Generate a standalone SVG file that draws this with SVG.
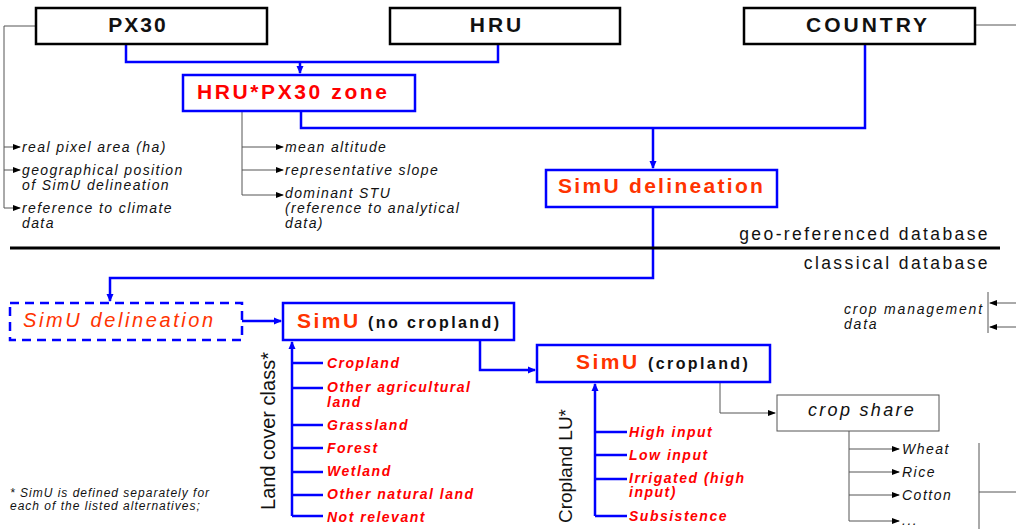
<svg xmlns="http://www.w3.org/2000/svg" width="1016" height="529" viewBox="0 0 1016 529">
<style>
text{font-family:"Liberation Sans",Arial,sans-serif}
.top{fill:#fff;stroke:#000;stroke-width:2.5}
.bbox{fill:#fff;stroke:#0000ff;stroke-width:2.5}
.blue{fill:none;stroke:#0000ff;stroke-width:2.5}
.gray{fill:none;stroke:#555;stroke-width:1}
.tt{font-size:21px;font-weight:bold;text-anchor:middle;fill:#111;letter-spacing:3px}
.ann{font-size:14px;font-style:italic;fill:#111;letter-spacing:1.4px}
.lc{font-size:14px;font-style:italic;font-weight:bold;fill:#ff0000;letter-spacing:1.5px}
.crop{font-size:14px;font-style:italic;fill:#111;letter-spacing:1.5px}
.db{font-size:17.5px;fill:#111;letter-spacing:2.4px;text-anchor:end}
.simu{font-size:21px;font-weight:bold;fill:#ff3300;letter-spacing:2.5px}
.sub{font-size:16px;fill:#111;letter-spacing:2.4px}
</style>
<defs>
<marker id="ab" markerWidth="8" markerHeight="8" refX="7" refY="4" orient="auto" markerUnits="userSpaceOnUse"><path d="M0,0.5 L8,4 L0,7.5 z" fill="#0000ff"/></marker>
<marker id="ak" markerWidth="8" markerHeight="7" refX="7" refY="3.5" orient="auto" markerUnits="userSpaceOnUse"><path d="M0,0.5 L8,3.5 L0,6.5 z" fill="#000"/></marker>
</defs>

<g id="connectors">
  <path class="blue" d="M126,44 V62 H498 V44"/>
  <path class="blue" d="M300,62 V73" marker-end="url(#ab)"/>
  <path class="blue" d="M301,111 V128 H865 V44"/>
  <path class="blue" d="M653,128 V168" marker-end="url(#ab)"/>
  <path class="blue" d="M653,207 V278 H110 V301" marker-end="url(#ab)"/>
  <path class="blue" d="M242,321 H281" marker-end="url(#ab)"/>
  <path class="blue" d="M480,340 V370 H535" marker-end="url(#ab)"/>
  <path class="blue" d="M292,516 V342" marker-end="url(#ab)"/>
  <path class="blue" d="M292,363 H323 M292,388 H323 M292,425 H323 M292,448 H323 M292,472 H323 M292,495 H323 M292,516 H323"/>
  <path class="blue" d="M595,516 V384" marker-end="url(#ab)"/>
  <path class="blue" d="M595,432 H627 M595,455 H627 M595,479 H627 M595,516 H627"/>
  <path class="gray" d="M975,25 H1016"/>
  <path class="gray" d="M36,26 H4 V208"/>
  <path class="gray" d="M4,147 H20" marker-end="url(#ak)"/>
  <path class="gray" d="M4,170 H20" marker-end="url(#ak)"/>
  <path class="gray" d="M4,208 H20" marker-end="url(#ak)"/>
  <path class="gray" d="M242,111 V195"/>
  <path class="gray" d="M242,147 H283" marker-end="url(#ak)"/>
  <path class="gray" d="M242,170 H283" marker-end="url(#ak)"/>
  <path class="gray" d="M242,195 H283" marker-end="url(#ak)"/>
  <path class="gray" d="M720,382 V413 H775" marker-end="url(#ak)"/>
  <path class="gray" d="M849,431 V521"/>
  <path class="gray" d="M849,449 H899" marker-end="url(#ak)"/>
  <path class="gray" d="M849,472 H899" marker-end="url(#ak)"/>
  <path class="gray" d="M849,495 H899" marker-end="url(#ak)"/>
  <path class="gray" d="M849,521 H899" marker-end="url(#ak)"/>
  <path class="gray" d="M979,443 V529 M979,492 H1016"/>
  <path class="gray" d="M988,292 V333"/>
  <path class="gray" d="M1016,303 H990" marker-end="url(#ak)"/>
  <path class="gray" d="M1016,327 H990" marker-end="url(#ak)"/>
</g>

<g id="separator">
  <line x1="10" y1="248" x2="1000" y2="248" stroke="#000" stroke-width="3"/>
  <text class="db" x="990" y="240">geo-referenced database</text>
  <text class="db" x="990" y="269">classical database</text>
</g>

<g id="px30"><rect class="top" x="36" y="8" width="231" height="36"/><text class="tt" x="138" y="32" style="letter-spacing:2px">PX30</text></g>
<g id="hru"><rect class="top" x="390" y="8" width="230" height="36"/><text class="tt" x="497" y="32">HRU</text></g>
<g id="country"><rect class="top" x="744" y="8" width="231" height="36"/><text class="tt" x="868" y="32">COUNTRY</text></g>

<g id="hru-px30"><rect class="bbox" x="183" y="75" width="232" height="36"/><text x="197" y="99" font-size="21" font-weight="bold" fill="#ff0000" letter-spacing="2.6">HRU*PX30 zone</text></g>

<g id="simu-delineation"><rect class="bbox" x="546" y="170" width="231" height="37"/><text x="558" y="193" font-size="21" font-weight="bold" fill="#ff3300" letter-spacing="2.3">SimU delineation</text></g>

<g id="ann-px30">
  <text class="ann" x="22" y="152">real pixel area (ha)</text>
  <text class="ann" x="22" y="175">geographical position</text>
  <text class="ann" x="22" y="190">of SimU delineation</text>
  <text class="ann" x="22" y="213">reference to climate</text>
  <text class="ann" x="22" y="228">data</text>
</g>
<g id="ann-hru">
  <text class="ann" x="285" y="152">mean altitude</text>
  <text class="ann" x="285" y="175">representative slope</text>
  <text class="ann" x="285" y="198">dominant STU</text>
  <text class="ann" x="285" y="213">(reference to analytical</text>
  <text class="ann" x="285" y="228">data)</text>
</g>

<g id="simu-delineation-dashed"><rect x="10" y="303" width="232" height="37" fill="#fff" stroke="#0000ff" stroke-width="2.5" stroke-dasharray="9,6"/><text x="23" y="327" font-size="20" font-style="italic" fill="#ff3300" letter-spacing="2.6">SimU delineation</text></g>

<g id="simu-nocrop"><rect class="bbox" x="283" y="303" width="231" height="37"/><text class="simu" x="297" y="328">SimU</text><text class="sub" x="368" y="328" font-weight="bold">(no cropland)</text></g>

<g id="simu-crop"><rect class="bbox" x="537" y="345" width="233" height="37"/><text class="simu" x="576" y="369">SimU</text><text class="sub" x="648" y="369" font-weight="bold">(cropland)</text></g>

<g id="land-cover">
  <text x="275" y="431" font-size="20" fill="#111" text-anchor="middle" transform="rotate(-90 275 431)">Land cover class*</text>
  <text class="lc" x="327" y="368">Cropland</text>
  <text class="lc" x="327" y="392">Other agricultural</text>
  <text class="lc" x="327" y="407">land</text>
  <text class="lc" x="327" y="430">Grassland</text>
  <text class="lc" x="327" y="453">Forest</text>
  <text class="lc" x="327" y="476">Wetland</text>
  <text class="lc" x="327" y="499">Other natural land</text>
  <text class="lc" x="327" y="522">Not relevant</text>
</g>

<g id="cropland-lu">
  <text x="572" y="466" font-size="19" fill="#111" text-anchor="middle" transform="rotate(-90 572 466)">Cropland LU*</text>
  <text class="lc" x="629" y="437">High input</text>
  <text class="lc" x="629" y="460">Low input</text>
  <text class="lc" x="629" y="483">Irrigated (high</text>
  <text class="lc" x="629" y="497">input)</text>
  <text class="lc" x="629" y="521">Subsistence</text>
</g>

<g id="crop-share"><rect x="777" y="395" width="162" height="36" fill="#fff" stroke="#555" stroke-width="1"/><text x="808" y="416" font-size="18" font-style="italic" fill="#111" letter-spacing="2.3">crop share</text></g>

<g id="crops">
  <text class="crop" x="902" y="454">Wheat</text>
  <text class="crop" x="902" y="477">Rice</text>
  <text class="crop" x="902" y="500">Cotton</text>
  <text class="crop" x="902" y="525">...</text>
</g>

<g id="crop-management">
  <text class="ann" x="844" y="314" style="letter-spacing:1.8px">crop management</text>
  <text class="ann" x="844" y="329" style="letter-spacing:1.8px">data</text>
</g>

<g id="footnote">
  <text x="10" y="497" font-size="12" font-style="italic" fill="#111" letter-spacing="1">* SimU is defined separately for</text>
  <text x="10" y="510" font-size="12" font-style="italic" fill="#111" letter-spacing="1">each of the listed alternatives;</text>
</g>
</svg>
